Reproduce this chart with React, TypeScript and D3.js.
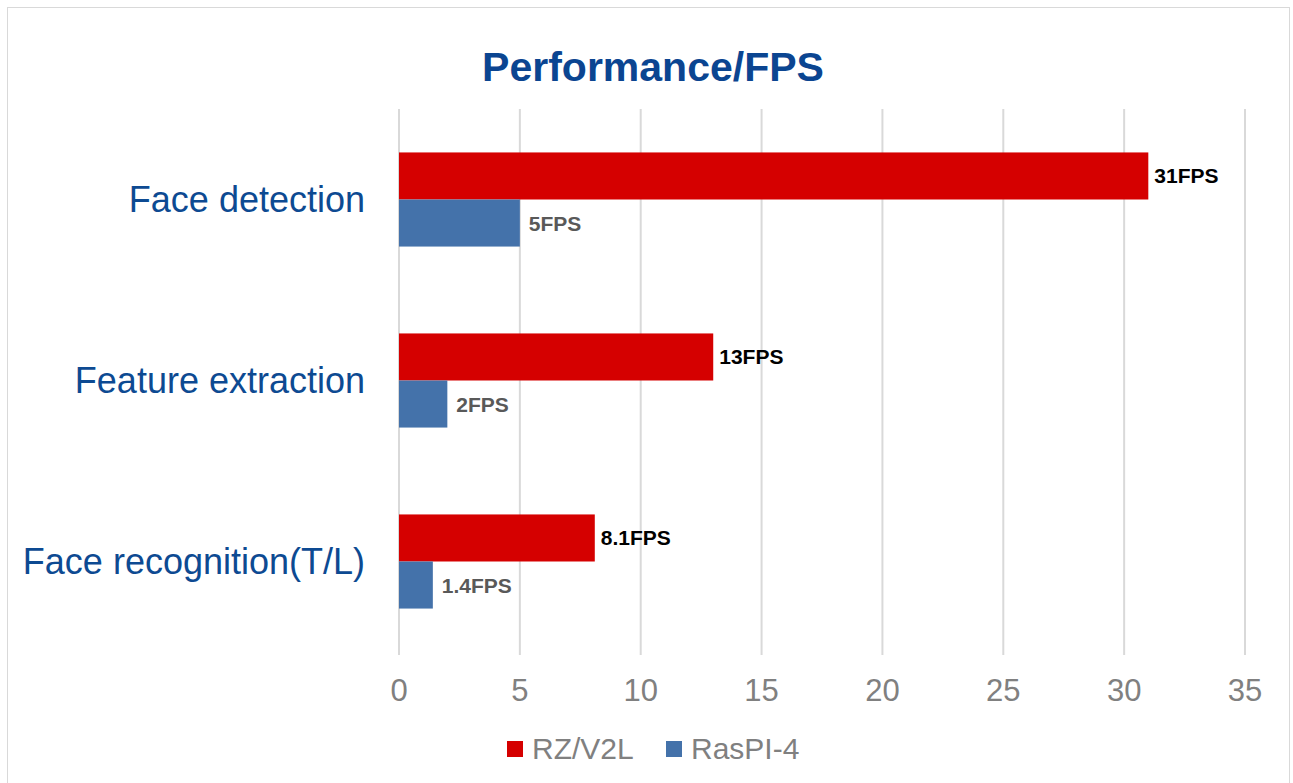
import * as d3 from 'd3';
import React, { useEffect, useRef } from 'react';

const categories = ['Face detection', 'Feature extraction', 'Face recognition(T/L)'];
const seriesNames = ['RZ/V2L', 'RasPI-4'];
const rzValues = [31, 13, 8.1];
const rasValues = [5, 2, 1.4];
const rzLabels = ['31FPS', '13FPS', '8.1FPS'];
const rasLabels = ['5FPS', '2FPS', '1.4FPS'];
const xTicks = [0, 5, 10, 15, 20, 25, 30, 35];

const colors = ['#d50000', '#4472aa'];
const labelColors = ['#000000', '#595959'];

const App = () => {
    const svgRef = useRef(null);

    useEffect(() => {
        const width = 1293;
        const height = 783;
        const margin = { top: 109, right: 48, bottom: 131, left: 399 };

        const svg = d3.select(svgRef.current);
        svg.selectAll('*').remove();
        svg.attr('width', width).attr('height', height);

        const font = 'Liberation Sans, Arial, sans-serif';

        // frame
        svg.append('rect')
            .attr('x', 7.5).attr('y', 7.5)
            .attr('width', 1282).attr('height', 790)
            .attr('fill', '#fff')
            .attr('stroke', '#d9d9d9');

        const xScale = d3.scaleLinear()
            .domain([0, 35])
            .range([margin.left, width - margin.right]);

        const yScale = d3.scaleBand()
            .domain(categories)
            .range([margin.top, height - margin.bottom])
            .paddingInner(0.48)
            .paddingOuter(0.24);

        const inner = d3.scaleBand()
            .domain(seriesNames)
            .range([0, yScale.bandwidth()]);

        // gridlines
        svg.append('g')
            .selectAll('line')
            .data(xTicks)
            .enter()
            .append('line')
            .attr('x1', d => xScale(d))
            .attr('x2', d => xScale(d))
            .attr('y1', margin.top)
            .attr('y2', height - margin.bottom + 3)
            .attr('stroke', '#d9d9d9')
            .attr('stroke-width', 2);

        // tick labels
        svg.append('g')
            .selectAll('text')
            .data(xTicks)
            .enter()
            .append('text')
            .attr('x', d => xScale(d))
            .attr('y', 701)
            .attr('text-anchor', 'middle')
            .style('font-family', font)
            .style('font-size', '31px')
            .attr('fill', '#808080')
            .text(d => d);

        // category labels
        svg.append('g')
            .selectAll('text')
            .data(categories)
            .enter()
            .append('text')
            .attr('x', 365)
            .attr('y', d => yScale(d) + yScale.bandwidth() / 2 + 12)
            .attr('text-anchor', 'end')
            .style('font-family', font)
            .style('font-size', '36px')
            .attr('fill', '#0d4a92')
            .text(d => d);

        const series = [rzValues, rasValues];
        const labels = [rzLabels, rasLabels];
        const labelOffset = [6, 9];

        series.forEach((vals, si) => {
            const g = svg.append('g');
            g.selectAll('rect')
                .data(vals)
                .enter()
                .append('rect')
                .attr('x', xScale(0))
                .attr('y', (d, i) => yScale(categories[i]) + inner(seriesNames[si]))
                .attr('width', d => xScale(d) - xScale(0))
                .attr('height', inner.bandwidth())
                .attr('fill', colors[si]);

            g.selectAll('text')
                .data(vals)
                .enter()
                .append('text')
                .attr('x', d => xScale(d) + labelOffset[si])
                .attr('y', (d, i) => yScale(categories[i]) + inner(seriesNames[si]) + inner.bandwidth() / 2 + 7.5)
                .style('font-family', font)
                .style('font-size', '21px')
                .style('font-weight', 'bold')
                .attr('fill', labelColors[si])
                .text((d, i) => labels[si][i]);
        });

        // title
        svg.append('text')
            .attr('x', 653)
            .attr('y', 81)
            .attr('text-anchor', 'middle')
            .style('font-family', font)
            .style('font-size', '41px')
            .style('font-weight', 'bold')
            .attr('fill', '#0b4591')
            .text('Performance/FPS');

        // legend
        const legendX = [507, 666];
        const legend = svg.append('g');
        seriesNames.forEach((name, i) => {
            legend.append('rect')
                .attr('x', legendX[i])
                .attr('y', 741)
                .attr('width', 16)
                .attr('height', 16)
                .attr('fill', colors[i]);
            legend.append('text')
                .attr('x', legendX[i] + 25)
                .attr('y', 759)
                .style('font-family', font)
                .style('font-size', '30px')
                .attr('fill', '#808080')
                .text(name);
        });
    }, []);

    return (
        <svg ref={svgRef} style={{ position: 'absolute', left: 0, top: 0 }}></svg>
    );
};

export default App;
